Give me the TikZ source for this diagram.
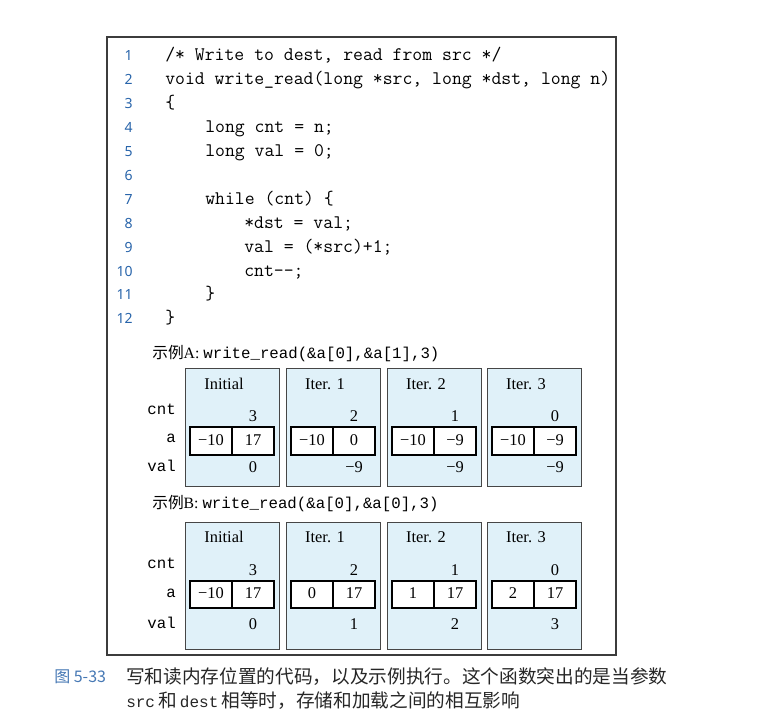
\documentclass[tikz,border=0pt]{standalone}
\usepackage{fontspec}
\setmainfont{Liberation Serif}
\newfontfamily\cjk{Noto Sans CJK SC}
\newfontfamily\cour{Liberation Mono}
\newfontfamily\lnfont{Noto Sans}
\definecolor{panelfill}{RGB}{224,241,249}
\definecolor{panelline}{RGB}{70,70,70}
\definecolor{lnblue}{RGB}{40,100,170}
\definecolor{capblue}{RGB}{70,120,180}
\definecolor{framegray}{RGB}{60,60,60}
\tikzset{
  codeline/.style={anchor=base west, inner sep=0pt, font=\fontsize{14.4}{16}\selectfont\ttfamily},
  lnum/.style={anchor=base east, inner sep=0pt, text=lnblue, font=\fontsize{10.5}{12}\selectfont\lnfont},
  panelbox/.style={draw=panelline, line width=0.7pt, fill=panelfill},
  cellbox/.style={draw=black, line width=1.4pt, fill=white},
  numtext/.style={anchor=base, inner sep=0pt, font=\fontsize{12.3}{14}\selectfont},
  varlab/.style={anchor=base east, inner sep=0pt, font=\fontsize{11.8}{13}\selectfont\cour},
  exlab/.style={anchor=base west, inner sep=0pt, font=\fontsize{11.8}{13}\selectfont},
  captext/.style={anchor=base west, inner sep=0pt, font=\fontsize{14}{16}\selectfont\cjk, text=black!85},
}
\begin{document}
\begin{tikzpicture}[x=0.75pt,y=-0.75pt]
\useasboundingbox (0,0) rectangle (769,723);
% outer frame
\draw[framegray, line width=1.1pt] (107,37) rectangle (616,655);

% code
\foreach \n in {1,...,12} {
  \node[lnum] (ln\n) at (133,{61+(\n-1)*23.9}) {\n};
}
\node[codeline] (c1) at (165,61) {/* Write to dest, read from src */};
\node[codeline] (c2) at (165,84.9) {void write\_read(long *src, long *dst, long n)};
\node[codeline] (c3) at (165,108.8) {\{};
\node[codeline] (c4) at (205,132.7) {long cnt = n;};
\node[codeline] (c5) at (205,156.6) {long val = 0;};
\node[codeline] (c7) at (205,204.4) {while (cnt) \{};
\node[codeline] (c8) at (244,228.3) {*dst = val;};
\node[codeline] (c9) at (244,252.2) {val = (*src)+1;};
\node[codeline] (c10) at (244,276.1) {cnt-{}-;};
\node[codeline] (c11) at (205,300) {\}};
\node[codeline] (c12) at (165,323.9) {\}};

% ---------- Example A ----------
\node[exlab] (exA) at (152,359) {{\cjk 示例}A: {\cour write\_read(\&a[0],\&a[1],3)}};
\node[varlab] (Acnt) at (176,415) {cnt};
\node[varlab] (Aa) at (176,443) {a};
\node[varlab] (Aval) at (176,472) {val};
\foreach \i/\L/\T/\C/\Pa/\Pb/\V in {0/185/Initial/3/−10/17/0, 1/286/Iter. 1/2/−10/0/−9, 2/387/Iter. 2/1/−10/−9/−9, 3/487/Iter. 3/0/−10/−9/−9} {
  \draw[panelbox] (\L,368) rectangle ({\L+94},486);
  \draw[cellbox] ({\L+5},427) rectangle ({\L+89},455);
  \draw[black, line width=1.2pt] ({\L+47},427) -- ({\L+47},455);
  \node[numtext] (At\i) at ({\L+39},390) {\T};
  \node[numtext] (Ac\i) at ({\L+68},422) {\C};
  \node[numtext] (Ap\i) at ({\L+26},446) {\Pa};
  \node[numtext] (Aq\i) at ({\L+68},446) {\Pb};
  \node[numtext] (Av\i) at ({\L+68},473) {\V};
}

% ---------- Example B ----------
\node[exlab] (exB) at (152,509) {{\cjk 示例}B: {\cour write\_read(\&a[0],\&a[0],3)}};
\node[varlab] (Bcnt) at (176,569) {cnt};
\node[varlab] (Ba) at (176,598) {a};
\node[varlab] (Bval) at (176,629) {val};
\foreach \i/\L/\T/\C/\Pa/\Pb/\V in {0/185/Initial/3/−10/17/0, 1/286/Iter. 1/2/0/17/1, 2/387/Iter. 2/1/1/17/2, 3/487/Iter. 3/0/2/17/3} {
  \draw[panelbox] (\L,522) rectangle ({\L+94},649);
  \draw[cellbox] ({\L+5},581) rectangle ({\L+89},608);
  \draw[black, line width=1.2pt] ({\L+47},581) -- ({\L+47},608);
  \node[numtext] (Bt\i) at ({\L+39},543) {\T};
  \node[numtext] (Bc\i) at ({\L+68},576) {\C};
  \node[numtext] (Bp\i) at ({\L+26},599) {\Pa};
  \node[numtext] (Bq\i) at ({\L+68},599) {\Pb};
  \node[numtext] (Bv\i) at ({\L+68},630) {\V};
}

% ---------- caption ----------
\node[anchor=base west, inner sep=0pt, text=capblue, font=\fontsize{12}{14}\selectfont\cjk] (capnum) at (54,683) {图 5-33};
\node[captext] (cap1) at (126,684) {写和读内存位置的代码，以及示例执行。这个函数突出的是当参数};
\node[captext] (cap2) at (126,708) {{\fontsize{12}{14}\selectfont\cour src}\,和\,{\fontsize{12}{14}\selectfont\cour dest}\,相等时，存储和加载之间的相互影响};
\end{tikzpicture}
\end{document}
